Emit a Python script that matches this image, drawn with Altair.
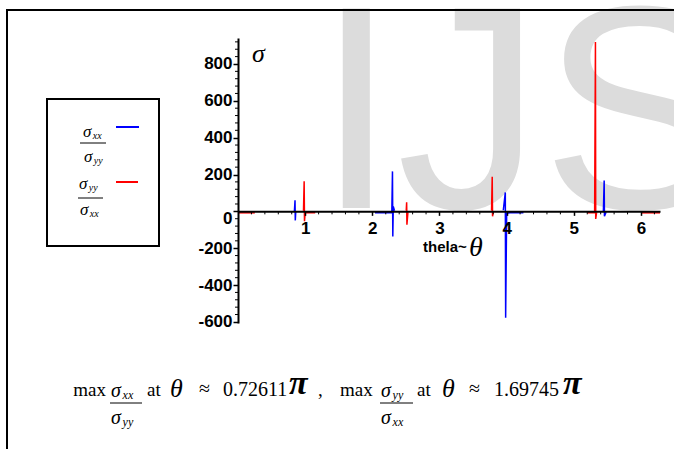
import altair as alt
import pandas as pd
import math

# ---------------- data ----------------
# sigma_xx / sigma_yy (blue): theta, value, and which visible piece it belongs to
blue_theta = [0.840, 0.849, 0.853, 0.860,
              2.04, 2.20, 2.29, 2.300, 2.305, 2.312, 2.33,
              3.95, 3.980, 3.985, 4.00, 4.05, 4.25,
              5.44, 5.452, 5.456, 5.48]
blue_value = [0, 60, -49, 0,
              -8, -8, -8, 217, -136, 27, 3,
              6, 103, -577, -10, -8, -8,
              -4, 168, -27, -5]
blue_piece = [0, 0, 0, 0,
              1, 1, 1, 1, 1, 1, 1,
              2, 2, 2, 2, 2, 2,
              3, 3, 3, 3]

# sigma_yy / sigma_xx (red)
red_theta = [0.00, 0.25,
             0.975, 0.985, 0.990, 1.00, 1.15,
             2.505, 2.511, 2.515, 2.53,
             3.775, 3.785, 3.790, 3.80,
             5.20, 5.31, 5.322, 5.326, 5.34,
             6.00, 6.283]
red_value = [-8, -8,
             3, 163, -54, -8, -8,
             4, 49, -72, -4,
             4, 188, -27, -4,
             -8, -8, 919, -41, -4,
             -8, -8]
red_piece = [0, 0,
             1, 1, 1, 1, 1,
             2, 2, 2, 2,
             3, 3, 3, 3,
             4, 4, 4, 4, 4,
             5, 5]

x_ticks = [1, 2, 3, 4, 5, 6]
y_ticks = [-600, -400, -200, 0, 200, 400, 600, 800]
x_minor = [0.2, 0.4, 0.6, 0.8, 1.2, 1.4, 1.6, 1.8, 2.2, 2.4, 2.6, 2.8,
           3.2, 3.4, 3.6, 3.8, 4.2, 4.4, 4.6, 4.8, 5.2, 5.4, 5.6, 5.8, 6.2]
y_minor = [-560, -520, -480, -440, -360, -320, -280, -240, -160, -120, -80, -40,
           40, 80, 120, 160, 240, 280, 320, 360, 440, 480, 520, 560,
           640, 680, 720, 760, 840, 880, 920]

X_MAX = 2 * math.pi
Y_MIN, Y_MAX = -606, 941

# ---------------- layout ----------------
LEFT, TOP = 238, 38
W, H = 422, 285
zero_px = H * Y_MAX / (Y_MAX - Y_MIN)
x_axis_offset = -(H - zero_px)

SERIF = "Liberation Serif"
SANS = "Liberation Sans"

rows = []
for i, (t, v, p) in enumerate(zip(blue_theta, blue_value, blue_piece)):
    rows.append({"theta": t, "value": v, "series": "xx", "piece": f"b{p}", "idx": i})
for i, (t, v, p) in enumerate(zip(red_theta, red_value, red_piece)):
    rows.append({"theta": t, "value": v, "series": "yy", "piece": f"r{p}", "idx": i})
df = pd.DataFrame(rows)

xscale = alt.Scale(domain=[0, X_MAX], nice=False, zero=False)
yscale = alt.Scale(domain=[Y_MIN, Y_MAX], nice=False, zero=False)

axis_common = dict(
    labelFont=SANS, labelFontWeight="bold", labelFontSize=17, labelColor="black",
    domainColor="black", domainWidth=2, tickColor="black", tickWidth=1.5,
    grid=False, title=None, zindex=1, labelFlush=False, labelOverlap=False,
    labelExpr="datum.value + ''",
)

lines = alt.Chart(df).mark_line(strokeWidth=1.5, clip=True).encode(
    x=alt.X("theta:Q", scale=xscale,
            axis=alt.Axis(values=x_ticks, tickSize=4, labelPadding=5,
                          offset=x_axis_offset, **axis_common)),
    y=alt.Y("value:Q", scale=yscale,
            axis=alt.Axis(values=y_ticks, tickSize=5, labelPadding=1,
                          labelOffset={"condition": {"test": "datum.value === 0", "value": 7},
                                       "value": 0},
                          **axis_common)),
    color=alt.Color("series:N", scale=alt.Scale(domain=["xx", "yy"],
                                                range=["#0000ff", "#ff0000"]), legend=None),
    detail="piece:N",
    order="idx:Q",
)

xminor = alt.Chart(pd.DataFrame({"theta": x_minor})).mark_rule(
    color="black", strokeWidth=1, y2Offset=3).encode(
    x="theta:Q", y=alt.datum(0), y2=alt.datum(0))
yminor = alt.Chart(pd.DataFrame({"value": y_minor})).mark_rule(
    color="black", strokeWidth=1, x2Offset=-3).encode(
    y="value:Q", x=alt.datum(0), x2=alt.datum(0))

one = pd.DataFrame({"k": [0]})


def txt(s, X, Y, size, font=SERIF, style="normal", weight="normal", align="left",
        color="black", baseline="alphabetic"):
    return alt.Chart(one).mark_text(
        text=s, font=font, fontSize=size, fontStyle=style, fontWeight=weight,
        align=align, baseline=baseline, color=color,
    ).encode(x=alt.value(X - LEFT), y=alt.value(Y - TOP))


def hline(X1, X2, Y, color="black", width=1.0):
    return alt.Chart(one).mark_rule(color=color, strokeWidth=width).encode(
        x=alt.value(X1 - LEFT), x2=alt.value(X2 - LEFT), y=alt.value(Y - TOP))


def box(X1, Y1, X2, Y2, width=2):
    return alt.Chart(one).mark_rect(fill="transparent", stroke="black",
                                    strokeWidth=width).encode(
        x=alt.value(X1 - LEFT), x2=alt.value(X2 - LEFT),
        y=alt.value(Y1 - TOP), y2=alt.value(Y2 - TOP))


def frac(X, bar_y, num_sub, den_sub, size, sub_size, bar_w, num_gap=6, den_gap=21, num_dx=1, den_dx=1):
    sw = size * 0.58
    return [
        txt("σ", X + num_dx, bar_y - num_gap, size, style="italic"),
        txt(num_sub, X + num_dx + sw, bar_y - num_gap + 2, sub_size, style="italic"),
        hline(X, X + bar_w, bar_y, width=1),
        txt("σ", X + den_dx, bar_y + den_gap, size, style="italic"),
        txt(den_sub, X + den_dx + sw, bar_y + den_gap + 2, sub_size, style="italic"),
    ]


watermark = txt("IJS", 316, 208, 290, font=SANS, color="#dcdcdc")

layers = [watermark, box(7, 10, 720, 470, 2), lines, xminor, yminor]

# axis titles
layers += [
    txt("σ", 252, 62, 26, style="italic"),
    txt("thela~", 423, 252, 15, font=SANS, weight="bold"),
    txt("θ", 469, 256, 28, style="italic"),
]

# legend
layers += [box(47, 99, 159, 246, 2),
           hline(116, 139, 127, color="#0000ff", width=2),
           hline(116, 138, 182, color="#ff0000", width=2)]
layers += frac(80, 143, "xx", "yy", 17, 10, 26, num_gap=6, den_gap=19, num_dx=3, den_dx=4)
layers += frac(78, 198, "yy", "xx", 17, 10, 25, num_gap=9, den_gap=17, num_dx=1, den_dx=2)

# bottom formula
BL = 396
layers += [txt("max", 106, BL, 19, align="right")]
layers += frac(110, 403, "xx", "yy", 20, 12, 32, num_gap=6, den_gap=21)
layers += [
    txt("at", 147, BL, 19),
    txt("θ", 170, BL + 1, 26, style="italic"),
    txt("≈", 199, BL - 1, 20),
    txt("0.72611", 223, BL, 20),
    txt("π", 289, BL - 2, 34, style="italic", weight="bold"),
    txt(",", 318, BL, 19),
    txt("max", 340, BL, 19),
]
layers += frac(380, 403, "yy", "xx", 20, 12, 33, num_gap=6, den_gap=21)
layers += [
    txt("at", 417, BL, 19),
    txt("θ", 442, BL + 1, 26, style="italic"),
    txt("≈", 469, BL - 1, 20),
    txt("1.69745", 494, BL, 20),
    txt("π", 563, BL - 2, 34, style="italic", weight="bold"),
]

chart = alt.layer(*layers).properties(
    width=W, height=H,
    autosize=alt.AutoSizeParams(type="none"),
    padding={"left": LEFT, "top": TOP, "right": 674 - LEFT - W, "bottom": 449 - TOP - H},
    background="white",
).configure_view(stroke=None)

chart.save("out.html", embed_options={"renderer": "svg", "actions": False})
